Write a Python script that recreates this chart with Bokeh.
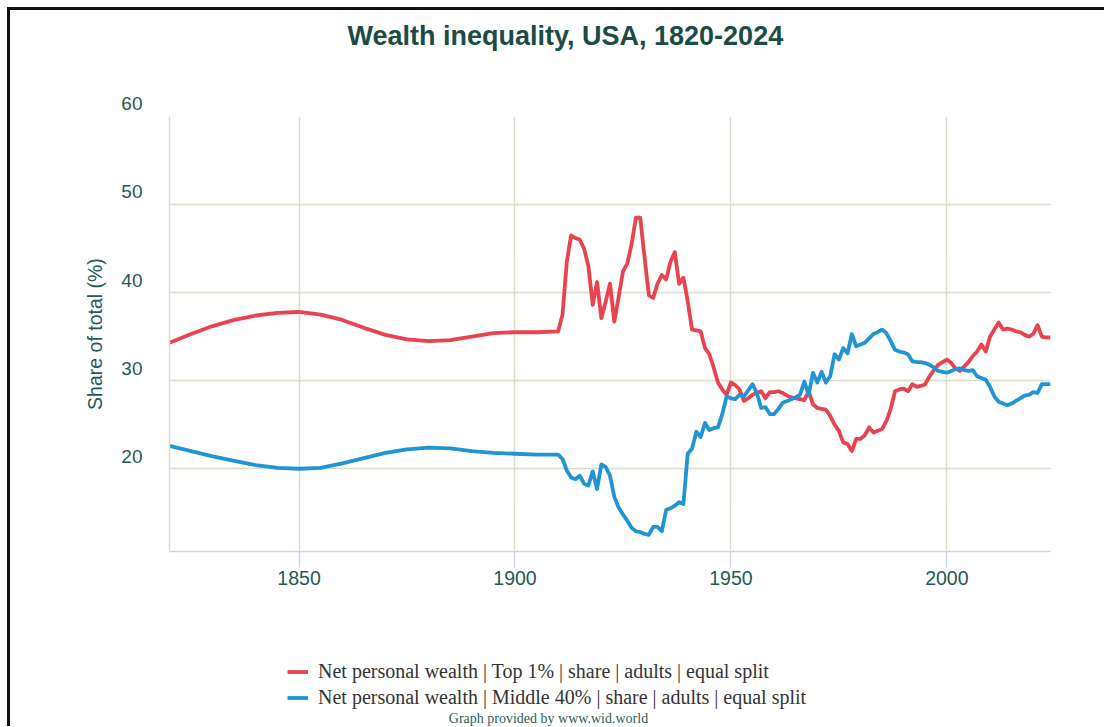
from bokeh.plotting import figure
from bokeh.layouts import column
from bokeh.models import Range1d, FixedTicker, Legend, LegendItem, Title, Label
from bokeh.embed import file_html
from bokeh.resources import INLINE

# ---------------- data ----------------
years_early = [1820, 1825, 1830, 1835, 1840, 1845, 1850, 1855, 1860, 1865,
               1870, 1875, 1880, 1885, 1890, 1895, 1900, 1905]
top1_early = [34.3, 35.3, 36.2, 36.9, 37.4, 37.7, 37.8, 37.5, 36.9, 36.0,
              35.2, 34.7, 34.5, 34.6, 35.0, 35.4, 35.5, 35.5]
mid40_early = [22.6, 22.0, 21.4, 20.9, 20.4, 20.1, 20.0, 20.1, 20.6, 21.2,
               21.8, 22.2, 22.4, 22.3, 22.0, 21.8, 21.7, 21.6]

years_late = list(range(1910, 2025))
top1_late = [
    35.6, 37.5, 43.5, 46.5, 46.2, 46.0, 45.0, 43.0, 38.6, 41.2,   # 1910-1919
    37.1, 39.0, 41.0, 36.7, 39.5, 42.4, 43.3, 45.5, 48.5, 48.5,   # 1920-1929
    44.0, 39.7, 39.4, 41.0, 42.0, 41.5, 43.5, 44.6, 41.0, 41.7,   # 1930-1939
    39.0, 35.8, 35.7, 35.6, 33.7, 33.0, 31.5, 29.8, 29.0, 28.4,   # 1940-1949
    29.8, 29.5, 29.0, 27.7, 28.0, 28.4, 28.6, 28.8, 28.0, 28.7,   # 1950-1959
    28.7, 28.8, 28.6, 28.3, 28.1, 28.0, 27.9, 27.8, 28.8, 27.3,   # 1960-1969
    26.9, 26.8, 26.7, 26.0, 25.0, 24.3, 23.0, 22.8, 22.0, 23.4,   # 1970-1979
    23.4, 23.8, 24.7, 24.1, 24.3, 24.5, 25.4, 26.8, 28.8, 29.0,   # 1980-1989
    29.1, 28.8, 29.6, 29.3, 29.4, 29.6, 30.5, 31.2, 31.8, 32.1,   # 1990-1999
    32.4, 32.0, 31.4, 31.1, 31.6, 32.1, 32.8, 33.3, 34.1, 33.3,   # 2000-2009
    35.0, 35.8, 36.6, 35.8, 35.9, 35.8, 35.6, 35.5, 35.2, 35.0,   # 2010-2019
    35.3, 36.3, 35.0, 34.9, 34.9,                                 # 2020-2024
]
mid40_late = [
    21.6, 21.1, 19.8, 19.0, 18.8, 19.2, 18.3, 18.1, 19.7, 17.7,   # 1910-1919
    20.5, 20.2, 19.2, 16.8, 15.6, 14.8, 14.1, 13.3, 12.9, 12.8,   # 1920-1929
    12.6, 12.5, 13.4, 13.4, 12.9, 15.3, 15.5, 15.8, 16.2, 16.0,   # 1930-1939
    21.7, 22.3, 24.2, 23.6, 25.2, 24.4, 24.6, 24.7, 26.2, 28.2,   # 1940-1949
    28.0, 27.9, 28.4, 28.2, 28.9, 29.6, 28.6, 26.9, 27.0, 26.2,   # 1950-1959
    26.2, 26.8, 27.5, 27.7, 27.9, 28.1, 28.4, 29.9, 28.4, 30.9,   # 1960-1969
    29.8, 31.0, 29.8, 30.5, 33.0, 32.4, 33.7, 33.1, 35.3, 33.9,   # 1970-1979
    34.1, 34.3, 34.8, 35.3, 35.5, 35.8, 35.4, 34.5, 33.5, 33.3,   # 1980-1989
    33.2, 33.0, 32.2, 32.1, 32.1, 32.0, 31.8, 31.5, 31.1, 31.0,   # 1990-1999
    30.9, 31.1, 31.3, 31.4, 31.2, 31.1, 31.2, 30.5, 30.3, 30.1,   # 2000-2009
    29.3, 28.2, 27.6, 27.4, 27.2, 27.4, 27.7, 28.0, 28.3, 28.4,   # 2010-2019
    28.7, 28.6, 29.6, 29.6, 29.6,                                 # 2020-2024
]

years = years_early + years_late
top1_share = top1_early + top1_late
middle40_share = mid40_early + mid40_late

x_ticks = [1850, 1900, 1950, 2000]
y_ticks = [20, 30, 40, 50, 60]
y_tick_labels = ["20", "30", "40", "50", "60"]

title_text = "Wealth inequality, USA, 1820-2024"
y_label = "Share of total (%)"
series_names = [
    "Net personal wealth | Top 1% | share | adults | equal split",
    "Net personal wealth | Middle 40% | share | adults | equal split",
]
credit_text = "Graph provided by www.wid.world"

# ---------------- style ----------------
RED = "#e8434f"
BLUE = "#2094d4"
GRID = "#dcdccc"
AXIS_BLUE = "#ccd6eb"
TEAL = "#255a54"
TITLE_COL = "#1c4b45"
SANS = "Liberation Sans"
SERIF = "Liberation Serif"
LW = 3.8

# ---------------- main chart ----------------
p = figure(width=1094, height=591, output_backend="svg", toolbar_location=None,
           x_range=Range1d(1820, 2024), y_range=Range1d(10.6, 60),
           min_border_left=159, min_border_right=54, min_border_top=106,
           min_border_bottom=50, title=None)
p.outline_line_color = None
p.background_fill_color = "white"
p.border_fill_color = "white"

p.line(years, top1_share, line_color=RED, line_width=LW, line_join="round")
p.line(years, middle40_share, line_color=BLUE, line_width=LW, line_join="round")

# x axis
xa = p.xaxis[0]
xa.ticker = FixedTicker(ticks=x_ticks)
xa.axis_line_color = AXIS_BLUE
xa.axis_line_width = 1.5
xa.major_tick_line_color = AXIS_BLUE
xa.major_tick_line_width = 1.5
xa.major_tick_out = 16
xa.major_tick_in = 0
xa.minor_tick_line_color = None
xa.major_label_text_font = SANS
xa.major_label_text_font_size = "19.5px"
xa.major_label_text_color = TEAL
xa.major_label_standoff = 3

# y axis (labels sit just above their grid lines)
ya = p.yaxis[0]
ya.ticker = FixedTicker(ticks=y_ticks)
ya.major_label_overrides = {t: lab + "\n " for t, lab in zip(y_ticks, y_tick_labels)}
ya.axis_line_color = GRID
ya.axis_line_width = 1.5
ya.major_tick_line_color = None
ya.major_tick_out = 0
ya.major_tick_in = 0
ya.minor_tick_line_color = None
ya.major_label_text_font = SANS
ya.major_label_text_font_size = "19px"
ya.major_label_text_color = TEAL
ya.major_label_standoff = 27
ya.axis_label = y_label
ya.axis_label_text_font = SANS
ya.axis_label_text_font_style = "normal"
ya.axis_label_text_font_size = "19.5px"
ya.axis_label_text_color = TEAL
ya.axis_label_standoff = 12

# grids
p.xgrid.ticker = FixedTicker(ticks=x_ticks)
p.ygrid.ticker = FixedTicker(ticks=y_ticks)
p.xgrid.grid_line_color = GRID
p.ygrid.grid_line_color = GRID
p.xgrid.grid_line_width = 1.5
p.ygrid.grid_line_width = 1.5

# title (two blank lines beneath lift it away from the plot area)
p.add_layout(Title(text=title_text + "\n \n ", align="left", offset=178, standoff=12,
                   text_font=SANS, text_font_size="27px", text_font_style="bold",
                   text_color=TITLE_COL), "above")

# ---------------- legend strip (frame aligned with the chart's frame) ----------------
q = figure(width=1094, height=125, output_backend="svg", toolbar_location=None,
           x_range=Range1d(0, 1), y_range=Range1d(0, 1),
           x_axis_location=None, y_axis_location=None,
           min_border=0, title=None)
q.outline_line_color = None
q.grid.visible = False
q.background_fill_color = "white"
q.border_fill_color = "white"

# legend keys: same series, styled like the chart lines (outside this strip's ranges)
k1 = q.line(years, top1_share, line_color=RED, line_width=LW)
k2 = q.line(years, middle40_share, line_color=BLUE, line_width=LW)

legend = Legend(items=[LegendItem(label=series_names[0], renderers=[k1]),
                       LegendItem(label=series_names[1], renderers=[k2])],
                location=(118, 17.5), orientation="vertical",
                label_text_font=SERIF, label_text_font_size="20px",
                label_text_color="#333333", glyph_width=21, glyph_height=23,
                label_height=23, spacing=3, padding=0, margin=0,
                label_standoff=10, border_line_color=None,
                background_fill_alpha=0)
q.add_layout(legend)

q.add_layout(Label(x=379, y=8, x_units="screen", y_units="screen", text=credit_text,
                   text_align="center", text_baseline="middle", text_font=SERIF,
                   text_font_size="14px", text_color="#2e5e58"))

page = column(p, q, spacing=0,
              styles={"margin-left": "7px", "margin-top": "7px",
                      "border-left": "3px solid #111111",
                      "border-top": "3px solid #111111"})

open("out.html", "w").write(file_html(page, INLINE))
